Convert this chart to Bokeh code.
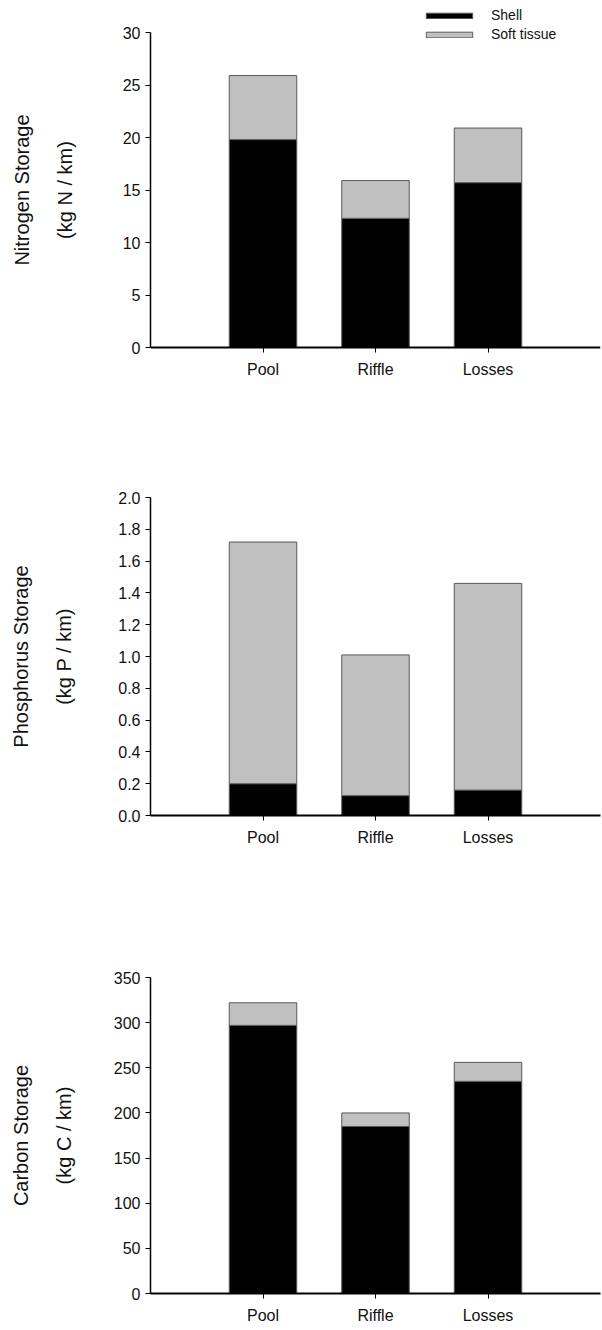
from bokeh.plotting import figure
from bokeh.layouts import column
from bokeh.models import (ColumnDataSource, FactorRange, Range1d, FixedTicker,
                          NumeralTickFormatter, Legend, LegendItem)
from bokeh.embed import file_html
from bokeh.resources import INLINE

categories = ["Pool", "Riffle", "Losses"]
series_names = ["Shell", "Soft tissue"]

nitrogen_shell = [19.8, 12.3, 15.7]
nitrogen_soft = [6.1, 3.6, 5.2]

phosphorus_shell = [0.20, 0.125, 0.16]
phosphorus_soft = [1.52, 0.885, 1.30]

carbon_shell = [297, 185, 235]
carbon_soft = [25, 15, 21]

nitrogen_ticks = [0, 5, 10, 15, 20, 25, 30]
phosphorus_ticks = [0.0, 0.2, 0.4, 0.6, 0.8, 1.0, 1.2, 1.4, 1.6, 1.8, 2.0]
carbon_ticks = [0, 50, 100, 150, 200, 250, 300, 350]

titles = ["Nitrogen Storage\n(kg N / km)",
          "Phosphorus Storage\n(kg P / km)",
          "Carbon Storage\n(kg C / km)"]

FONT = "Liberation Sans"
SHELL_COLOR = "#000000"
SOFT_COLOR = "#c0c0c0"
EDGE = "#5a5a5a"
TEXT = "#111111"


def make_panel(shell, soft, ticks, fmt, title, height, btop, bbottom, bleft,
               standoff, pad_px=0.0, frame_px=None, legend=False):
    src = ColumnDataSource(dict(cat=categories, shell=shell, soft=soft))
    # optional symmetric padding (in pixels) above and below the value range
    pad = 0.0
    if pad_px and frame_px:
        pad = (ticks[-1] - ticks[0]) * pad_px / frame_px
    p = figure(width=602, height=height, output_backend="svg",
               toolbar_location=None,
               x_range=FactorRange(factors=categories, range_padding=0.5,
                                   range_padding_units="absolute"),
               y_range=Range1d(ticks[0] - pad, ticks[-1] + pad),
               min_border_top=btop, min_border_bottom=bbottom,
               min_border_left=bleft, min_border_right=2)
    rs = p.vbar_stack(["shell", "soft"], x="cat", width=0.6, source=src,
                      fill_color=[SHELL_COLOR, SOFT_COLOR], line_color=EDGE,
                      line_width=1)
    p.xgrid.visible = False
    p.ygrid.visible = False
    p.outline_line_color = None
    p.background_fill_color = "white"
    p.border_fill_color = "white"

    ya = p.yaxis[0]
    ya.bounds = (ticks[0], ticks[-1])
    ya.ticker = FixedTicker(ticks=ticks)
    if fmt:
        ya.formatter = NumeralTickFormatter(format=fmt)
    ya.axis_line_color = "black"
    ya.axis_line_width = 1.5
    ya.major_tick_line_color = "black"
    ya.major_tick_out = 5
    ya.major_tick_in = 0
    ya.minor_tick_line_color = None
    ya.major_label_text_font = FONT
    ya.major_label_text_font_size = "16px"
    ya.major_label_text_color = TEXT
    ya.major_label_standoff = 5
    ya.axis_label = title
    ya.axis_label_text_font = FONT
    ya.axis_label_text_font_size = "20px"
    ya.axis_label_text_font_style = "normal"
    ya.axis_label_text_color = TEXT
    ya.axis_label_text_line_height = 1.95
    ya.axis_label_standoff = standoff

    xa = p.xaxis[0]
    if pad:
        xa.fixed_location = ticks[0]
    xa.axis_line_color = "black"
    xa.axis_line_width = 2
    xa.major_tick_line_color = "black"
    xa.major_tick_out = 5
    xa.major_tick_in = 0
    xa.minor_tick_line_color = None
    xa.major_label_text_font = FONT
    xa.major_label_text_font_size = "16px"
    xa.major_label_text_color = TEXT
    xa.major_label_standoff = 8

    if legend:
        leg = Legend(items=[LegendItem(label=series_names[0], renderers=[rs[0]]),
                            LegendItem(label=series_names[1], renderers=[rs[1]])],
                     location=(270, 336), orientation="vertical",
                     glyph_width=58, glyph_height=7, label_height=18,
                     spacing=1, padding=0, margin=0,
                     label_text_font=FONT, label_text_font_size="14px",
                     label_text_color=TEXT,
                     label_standoff=13, border_line_color=None,
                     background_fill_alpha=0)
        p.add_layout(leg, "center")
    return p


# top panel: the frame is padded by 32 px above and below the 0-30 range so
# the legend fits inside it while the axis title stays centred on the axis
p1 = make_panel(nitrogen_shell, nitrogen_soft, nitrogen_ticks, None, titles[0],
                420, 0, 41, 147, 44, pad_px=32, frame_px=315, legend=True)
p2 = make_panel(phosphorus_shell, phosphorus_soft, phosphorus_ticks, "0.0",
                titles[1], 480, 77, 85, 148, 40)
p3 = make_panel(carbon_shell, carbon_soft, carbon_ticks, None, titles[2],
                430, 77, 37, 150, 36)

layout = column(p1, p2, p3, spacing=0)
open("out.html", "w").write(file_html(layout, INLINE))
